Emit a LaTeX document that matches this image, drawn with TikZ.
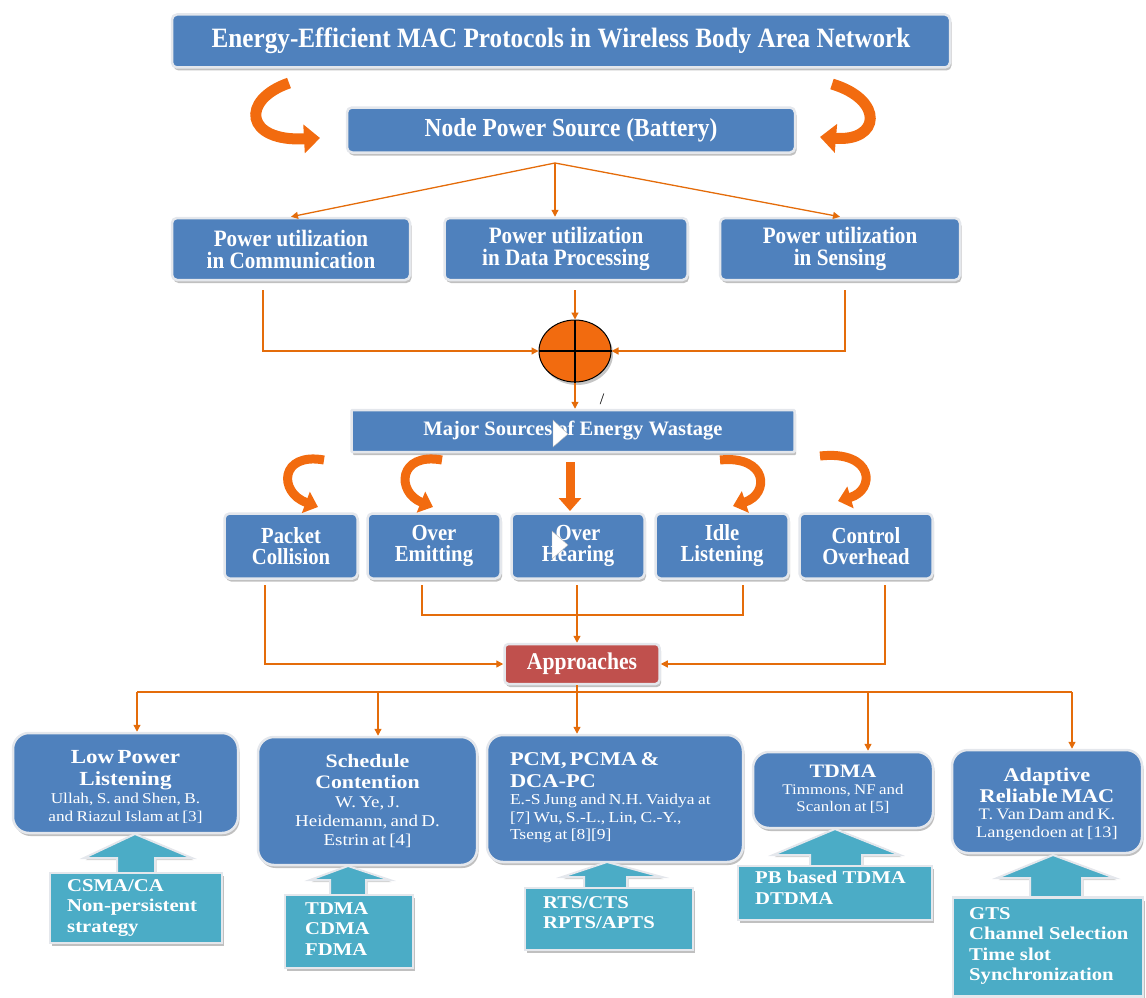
\documentclass[tikz,border=0pt]{standalone}
\usepackage{fontspec}
\setmainfont{Liberation Serif}
\newfontfamily\condfont[FakeStretch=0.9]{Liberation Serif}
\newfontfamily\widefont[FakeStretch=1.15]{Liberation Serif}
\usetikzlibrary{arrows.meta,shadows,calc,shapes.geometric}
\definecolor{boxblue}{HTML}{4F81BD}
\definecolor{edgegray}{HTML}{E4E7EC}
\definecolor{lineor}{HTML}{E46C0A}
\definecolor{arrowor}{HTML}{F26B0F}
\definecolor{tealc}{HTML}{4BACC6}
\definecolor{redbox}{HTML}{C0504D}
\tikzset{
  boxbase/.style={draw=edgegray, line width=2.5pt, text=white, align=center, inner sep=0pt,
    drop shadow={shadow xshift=1.5pt, shadow yshift=-3pt, fill=black!45, opacity=0.55}},
  bluebox/.style={boxbase, fill=boxblue, rounded corners=5pt},
  bigbox/.style={boxbase, fill=boxblue, rounded corners=16pt},
  redbx/.style={boxbase, fill=redbox, rounded corners=4pt},
  tealbox/.style={boxbase, fill=tealc, rounded corners=0pt},
  tealarrow/.style={fill=tealc, draw=edgegray, line width=2pt,
    drop shadow={shadow xshift=1.5pt, shadow yshift=-2pt, fill=black!35, opacity=0.5}},
  conn/.style={draw=lineor, line width=1.3pt, -{Triangle[width=7pt,length=7pt]}},
  plain/.style={draw=lineor, line width=1.3pt},
  fatarrow/.style={draw=arrowor, line width=9pt, -{Triangle[width=22pt,length=13pt]}},
  bigfat/.style={draw=arrowor, line width=11pt, -{Triangle[width=28pt,length=16pt]}},
  btext/.style={text=white, align=center, inner sep=0pt, anchor=north},
  ttext/.style={text=white, align=left, inner sep=0pt, anchor=north west,
    font=\widefont\fontsize{18}{20.5}\selectfont\bfseries},
  cursor/.style={fill=white, draw=gray!60, line width=0.4pt},
}
\begin{document}
\begin{tikzpicture}[x=1pt,y=-1pt]
\useasboundingbox (0,0) rectangle (1146,998);

% ---------- top boxes
\node[bluebox, minimum width=778pt, minimum height=53pt,
  font=\condfont\bfseries\fontsize{28}{30}\selectfont] (title) at (561,41)
  {Energy-Efficient MAC Protocols in Wireless Body Area Network};
\node[bluebox, minimum width=448pt, minimum height=45pt,
  font=\condfont\bfseries\fontsize{26}{28}\selectfont] (npower) at (571,130)
  {Node Power Source (Battery)};

\draw[bigfat] (289,83) .. controls (240,100) and (245,142) .. (320,138);
\draw[bigfat] (832,84) .. controls (885,100) and (880,142) .. (820,137);

\node[bluebox, minimum width=238pt, minimum height=62pt,
  font=\condfont\bfseries\fontsize{23.5}{22}\selectfont] (comm) at (291,249)
  {Power utilization\\in Communication};
\node[bluebox, minimum width=243pt, minimum height=62pt,
  font=\condfont\bfseries\fontsize{23.5}{22}\selectfont] (proc) at (566,249)
  {Power utilization\\in Data Processing};
\node[bluebox, minimum width=240pt, minimum height=62pt,
  font=\condfont\bfseries\fontsize{23.5}{22}\selectfont] (sens) at (840,249)
  {Power utilization\\in Sensing};

\coordinate (np) at (555,163);
\draw[conn] (np) -- (comm.north);
\draw[conn] (np) -- (np |- proc.north);
\draw[conn] (np) -- (sens.north);

% ---------- summing circle
\node[ellipse, fill=arrowor, draw=black, line width=1pt, minimum width=72pt, minimum height=62pt,
  drop shadow={shadow xshift=2pt, shadow yshift=-3pt, fill=black!45, opacity=0.5}] (sum) at (575,351) {};
\draw[black, line width=1.6pt] (sum.north) -- (sum.south) (sum.west) -- (sum.east);

\coordinate (c1) at (263,290);
\coordinate (c2) at (575,290);
\coordinate (c3) at (845,290);
\draw[conn] (c1) |- (sum.west);
\draw[conn] (c2) -- (sum.north);
\draw[conn] (c3) |- (sum.east);

\node[bluebox, rounded corners=1pt, minimum width=443pt, minimum height=42pt,
  font=\bfseries\fontsize{20.5}{22}\selectfont] (major) at (573,431)
  {Major Sources of Energy Wastage};
\draw[conn] (sum.south) -- (sum.south |- major.north);
\node[black, font=\fontsize{16}{18}\selectfont, inner sep=0pt] (slash) at (602,399) {/};

% ---------- wastage boxes
\foreach \n/\x/\t in {pc/291/{Packet\\Collision}, oe/434/{Over\\Emitting}, oh/578/{Over\\Hearing},
                     il/722/{Idle\\Listening}, co/866/{Control\\Overhead}}
  \node[bluebox, minimum width=133pt, minimum height=65pt,
    font=\condfont\bfseries\fontsize{23}{21}\selectfont] (\n) at (\x,546) {\t};

\draw[fatarrow] (324,460) .. controls (280,452) and (278,492) .. (318,507);
\draw[fatarrow] (442,460) .. controls (398,452) and (396,492) .. (433,507);
\draw[fatarrow] (570,462) -- (570,511);
\draw[fatarrow] (720,460) .. controls (768,455) and (770,494) .. (733,506);
\draw[fatarrow] (820,456) .. controls (874,450) and (876,490) .. (838,501);

% cursor marks
\filldraw[cursor] (553,420) -- (553,447) -- (568,434) -- cycle;
\filldraw[cursor] (552,531) -- (552,559) -- (568,545) -- cycle;

% ---------- approaches
\node[redbx, minimum width=155pt, minimum height=40pt,
  font=\condfont\bfseries\fontsize{24}{24}\selectfont] (appr) at (582,664) {Approaches};

\coordinate (w1) at (265,585);
\coordinate (w2) at (422,585);
\coordinate (w3) at (577,585);
\coordinate (w4) at (743,585);
\coordinate (w5) at (885,585);
\coordinate (wj) at (577,615);
\draw[conn] (w1) |- (appr.west);
\draw[plain] (w2) |- (wj) -| (w4);
\draw[conn] (w3) -- (w3 |- appr.north);
\draw[conn] (w5) |- (appr.east);

% ---------- bottom boxes
\node[bigbox, minimum width=225pt, minimum height=100pt] (lpl) at (125.5,783) {};
\node[bigbox, minimum width=219pt, minimum height=128pt] (sch) at (367.5,801) {};
\node[bigbox, minimum width=256pt, minimum height=127pt] (pcm) at (615,798.5) {};
\node[bigbox, minimum width=180pt, minimum height=76pt] (tdma) at (843,790) {};
\node[bigbox, minimum width=190pt, minimum height=103pt] (arm) at (1047,801.5) {};

\coordinate (bus) at (577,692);
\coordinate (b1) at (137,692);
\coordinate (b2) at (378,692);
\coordinate (b4) at (868,692);
\coordinate (b5) at (1072,692);
\draw[plain] (appr.south -| bus) -- (bus);
\draw[plain] (b1) -- (b5);
\draw[conn] (b1) -- (b1 |- lpl.north);
\draw[conn] (b2) -- (b2 |- sch.north);
\draw[conn] (bus) -- (bus |- pcm.north);
\draw[conn] (b4) -- (b4 |- tdma.north);
\draw[conn] (b5) -- (b5 |- arm.north);

% texts in bottom boxes
\node[btext, text width=219pt] (lplt) at (125.5,750)
  {{\widefont\fontsize{20}{22}\selectfont\bfseries Low Power\\Listening\par}
   {\widefont\fontsize{15}{18}\selectfont Ullah, S. and Shen, B.\\and Riazul Islam at [3]\par}};
\node[btext, text width=214pt] (scht) at (367.5,754)
  {{\widefont\fontsize{19}{21}\selectfont\bfseries Schedule\\Contention\par}
   {\widefont\fontsize{16.5}{19}\selectfont W. Ye, J.\\Heidemann, and D.\\Estrin at [4]\par}};
\node[btext, text width=208pt, align=left] (pcmt) at (614,752)
  {{\widefont\fontsize{19.5}{22}\selectfont\bfseries \makebox[\linewidth][s]{PCM, PCMA \&}\\DCA-PC\par}
   {\widefont\fontsize{15.2}{17.5}\selectfont \makebox[\linewidth][s]{E.-S Jung and N.H. Vaidya at}\\
    \makebox[\linewidth][s]{[7] Wu, S.-L., Lin, C.-Y.,}\\Tseng at [8][9]\par}};
\node[btext, text width=178pt] (tdmat) at (843,765)
  {{\widefont\fontsize{19}{21}\selectfont\bfseries TDMA\par}
   {\widefont\fontsize{14.7}{17}\selectfont Timmons, NF and\\Scanlon at [5]\par}};
\node[btext, text width=188pt] (armt) at (1047,768)
  {{\widefont\fontsize{19.4}{20.5}\selectfont\bfseries Adaptive\\Reliable MAC\par}
   {\widefont\fontsize{16}{17.5}\selectfont T. Van Dam and K.\\Langendoen at [13]\par}};

% ---------- teal arrows and boxes
\filldraw[tealarrow] (117,873) -- (117,858) -- (84,858) -- (135,834) -- (192,858) -- (155,858) -- (155,873) -- cycle;
\filldraw[tealarrow] (330,895) -- (330,880) -- (310,880) -- (348,866) -- (390,880) -- (366,880) -- (366,895) -- cycle;
\filldraw[tealarrow] (584,888) -- (584,877) -- (562,877) -- (607,862) -- (662,877) -- (627,877) -- (627,888) -- cycle;
\filldraw[tealarrow] (810,868) -- (810,855) -- (773,855) -- (835,829) -- (900,855) -- (862,855) -- (862,868) -- cycle;
\filldraw[tealarrow] (1030,897) -- (1030,878) -- (997,878) -- (1053,855) -- (1115,878) -- (1082,878) -- (1082,897) -- cycle;

\node[tealbox, minimum width=172pt, minimum height=70pt] (lplq) at (136,908) {};
\node[tealbox, minimum width=128pt, minimum height=73pt] (schq) at (349,931.5) {};
\node[tealbox, minimum width=168pt, minimum height=62pt] (pcmq) at (609,919) {};
\node[tealbox, minimum width=194pt, minimum height=54pt] (tdmq) at (835,893) {};
\node[tealbox, minimum width=190pt, minimum height=99pt] (armq) at (1048,947) {};

\node[ttext] at (67,879) {CSMA/CA\\Non-persistent\\strategy};
\node[ttext] at (305,902) {TDMA\\CDMA\\FDMA};
\node[ttext] at (543,896) {RTS/CTS\\RPTS/APTS};
\node[ttext] at (755,871) {PB based TDMA\\DTDMA};
\node[ttext] at (969,907) {GTS\\Channel Selection\\Time slot\\Synchronization};
\end{tikzpicture}
\end{document}
